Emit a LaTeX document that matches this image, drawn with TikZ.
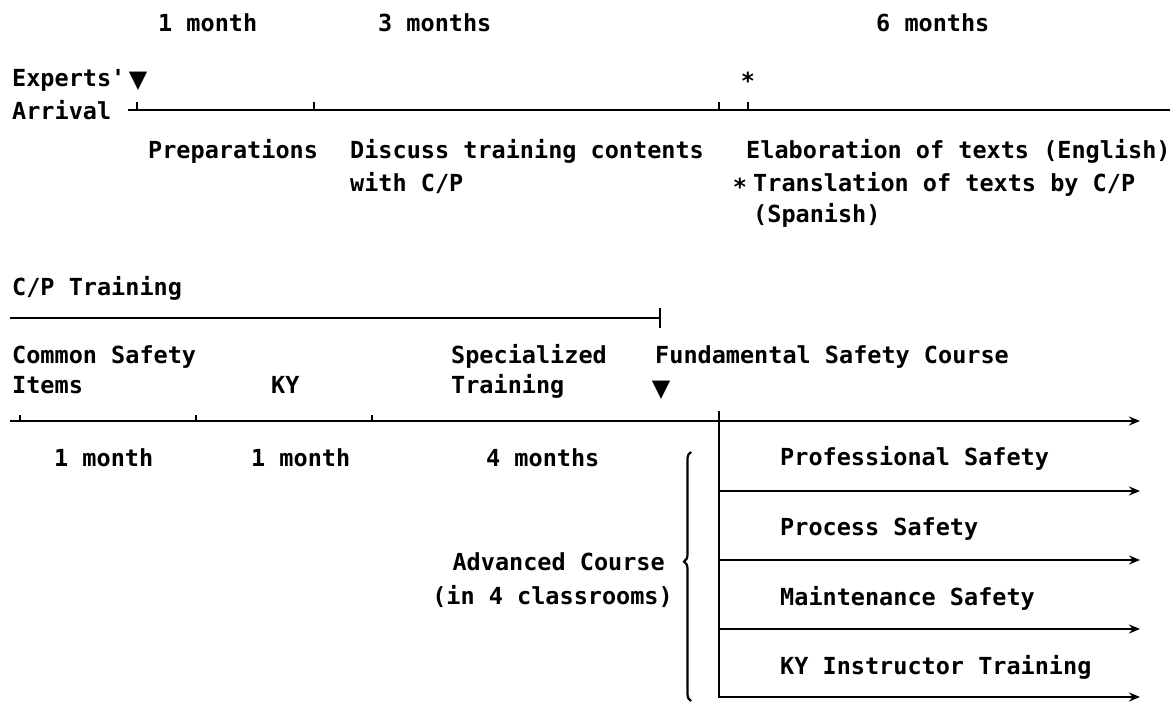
\documentclass[tikz,border=0pt]{standalone}
\usepackage{fontspec}
\setmonofont{DejaVu Sans Mono}
\newfontfamily\symfont{DejaVu Sans}
\usetikzlibrary{arrows.meta,decorations.pathreplacing,calc}
\tikzset{
  tx/.style={font=\ttfamily\bfseries\fontsize{23.5}{28}\selectfont, inner sep=0pt, anchor=base west},
  txr/.style={tx, anchor=base east},
  sym/.style={font=\symfont\fontsize{24}{28}\selectfont, inner sep=0pt, anchor=base},
  axis/.style={line width=1.8pt},
  arr/.style={line width=1.8pt, -{Stealth[length=11pt,width=9pt]}},
  tick/.style={line width=1.8pt},
}
\begin{document}
\begin{tikzpicture}[x=1pt,y=-1pt]
\useasboundingbox (0,0) rectangle (1176,703);
% top row durations
\node[tx] (m1) at (158,32) {1 month};
\node[tx] (m3) at (378,32) {3 months};
\node[tx] (m6) at (876,32) {6 months};
% experts arrival
\node[tx] (exp) at (12,87) {Experts'};
\node[sym] (tri1) at (138,88) {▼};
\node[tx, anchor=base] (ast1) at (748,90) {*};
\node[tx] (arr) at (12,120) {Arrival};
\coordinate (a0) at (128,110);
\coordinate (a1) at (1170,110);
\draw[axis] (a0) -- (a1);
\foreach \x/\n in {137/t1,314/t2,719/t3,748/t4}{
  \coordinate (\n) at (\x,110);
  \draw[tick] (\n) -- ++(0,-8);
}
\node[tx] (prep) at (148,159) {Preparations};
\node[tx] (disc) at (350,159) {Discuss training contents};
\node[tx] (disc2) at (350,192) {with C/P};
\node[tx] (elab) at (746,159) {Elaboration of texts (English)};
\node[tx, anchor=base] (ast2) at (740,196) {*};
\node[tx] (trans) at (753,192) {Translation of texts by C/P};
\node[tx] (span) at (753,223) {(Spanish)};
% C/P training
\node[tx] (cpt) at (12,296) {C/P Training};
\coordinate (c0) at (10,318);
\coordinate (c1) at (660,318);
\draw[axis] (c0) -- (c1);
\draw[line width=2.6pt] ($(c1)+(0,-10)$) -- ($(c1)+(0,10)$);
\node[tx] (cs1) at (12,364) {Common Safety};
\node[tx] (cs2) at (12,394) {Items};
\node[tx] (ky) at (271,394) {KY};
\node[tx] (sp1) at (451,364) {Specialized};
\node[tx] (sp2) at (451,394) {Training};
\node[tx] (fund) at (655,364) {Fundamental Safety Course};
\node[sym] (tri2) at (661,397) {▼};
\coordinate (b0) at (10,421);
\coordinate (b1) at (1140,421);
\draw[arr] (b0) -- (b1);
\foreach \x/\n in {20/u1,196/u2,372/u3}{
  \coordinate (\n) at (\x,421);
  \draw[tick] (\n) -- ++(0,-6);
}
\coordinate (v0) at (719,411);
\coordinate (v1) at (719,698);
\draw[line width=2.2pt] (v0) -- (v1);
\node[tx] (d1) at (54,466) {1 month};
\node[tx] (d2) at (251,466) {1 month};
\node[tx] (d3) at (486,466) {4 months};
% brace
\coordinate (br0) at (691,701);
\coordinate (br1) at (691,452);
\draw[line width=2.2pt, decorate, decoration={brace, amplitude=7pt, aspect=0.56}] (br0) -- (br1);
\node[txr] (adv1) at (665,570) {Advanced Course};
\node[txr] (adv2) at (673,604) {(in 4 classrooms)};
% courses
\node[tx] (c1t) at (780,465) {Professional Safety};
\node[tx] (c2t) at (780,535) {Process Safety};
\node[tx] (c3t) at (780,605) {Maintenance Safety};
\node[tx] (c4t) at (780,674) {KY Instructor Training};
\foreach \y/\n in {491/l1,560/l2,629/l3,697/l4}{
  \coordinate (\n a) at (719,\y);
  \coordinate (\n b) at (1140,\y);
  \draw[arr] (\n a) -- (\n b);
}
\end{tikzpicture}
\end{document}
